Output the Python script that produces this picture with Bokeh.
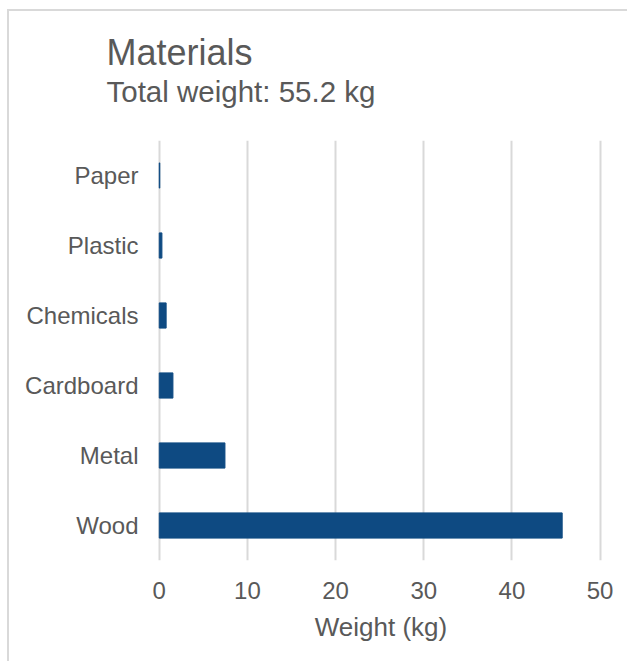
from bokeh.plotting import figure
from bokeh.models import Range1d, FactorRange, FixedTicker, Title, LinearAxis
from bokeh.embed import file_html
from bokeh.resources import INLINE

categories = ["Wood", "Metal", "Cardboard", "Chemicals", "Plastic", "Paper"]
weights = [45.7, 7.45, 1.55, 0.78, 0.3, 0.06]
x_ticks = [0, 10, 20, 30, 40, 50]
title_text = "Materials"
subtitle_text = "Total weight: 55.2 kg"
x_label = "Weight (kg)"

FONT = "Liberation Sans"
TEXT = "#595959"
GRID = "#d9d9d9"
BAR = "#0E4A82"

p = figure(width=627, height=661, output_backend="svg", toolbar_location=None,
           y_range=FactorRange(*categories), x_range=Range1d(-0.2, 50.5),
           min_border_left=157, min_border_right=23, min_border_top=140, min_border_bottom=101)
p.border_fill_color = None
p.styles = {"background": "linear-gradient(#d9d9d9,#d9d9d9) 7px 9px / 640px 2px no-repeat, "
                          "linear-gradient(#d9d9d9,#d9d9d9) 7px 9px / 2px 670px no-repeat, #ffffff"}
p.outline_line_color = None

p.hbar(y=categories, right=weights, left=0, height=0.36, color=BAR)

p.xaxis.ticker = FixedTicker(ticks=x_ticks)
for ax in (p.xaxis[0], p.yaxis[0]):
    ax.axis_line_color = None
    ax.major_tick_line_color = None
    ax.minor_tick_line_color = None
    ax.major_tick_out = 0
    ax.major_tick_in = 0
    ax.minor_tick_out = 0
    ax.major_label_text_font = FONT
    ax.major_label_text_color = TEXT
    ax.major_label_text_font_size = "24px"
p.yaxis.major_label_standoff = 19
p.xaxis.major_label_standoff = 21
p.xaxis.axis_label = x_label
p.xaxis.axis_label_text_font = FONT
p.xaxis.axis_label_text_font_style = "normal"
p.xaxis.axis_label_text_color = TEXT
p.xaxis.axis_label_text_font_size = "26px"
p.xaxis.axis_label_standoff = 10

p.xgrid.grid_line_color = GRID
p.xgrid.grid_line_width = 2
p.ygrid.grid_line_color = None

p.title.text = ""
p.title.visible = False
# blank spacer band between the frame and the subtitle (white tick on white, empty label)
spacer = LinearAxis(ticker=FixedTicker(ticks=[25]), axis_line_color=None,
                    major_tick_line_color="#ffffff", minor_tick_line_color=None,
                    major_tick_out=33, major_tick_in=0, minor_tick_out=0,
                    major_label_standoff=0, major_label_text_font_size="1px",
                    major_label_overrides={25: ""})
p.add_layout(spacer, "above")
p.add_layout(Title(text=subtitle_text, align="left", offset=-51, standoff=0,
                   text_font=FONT, text_font_size="29.5px", text_color=TEXT,
                   text_font_style="normal"), "above")
p.add_layout(Title(text=title_text, align="left", offset=-51, standoff=0,
                   text_font=FONT, text_font_size="36px", text_color=TEXT,
                   text_font_style="normal"), "above")

open("out.html", "w").write(file_html(p, INLINE))
